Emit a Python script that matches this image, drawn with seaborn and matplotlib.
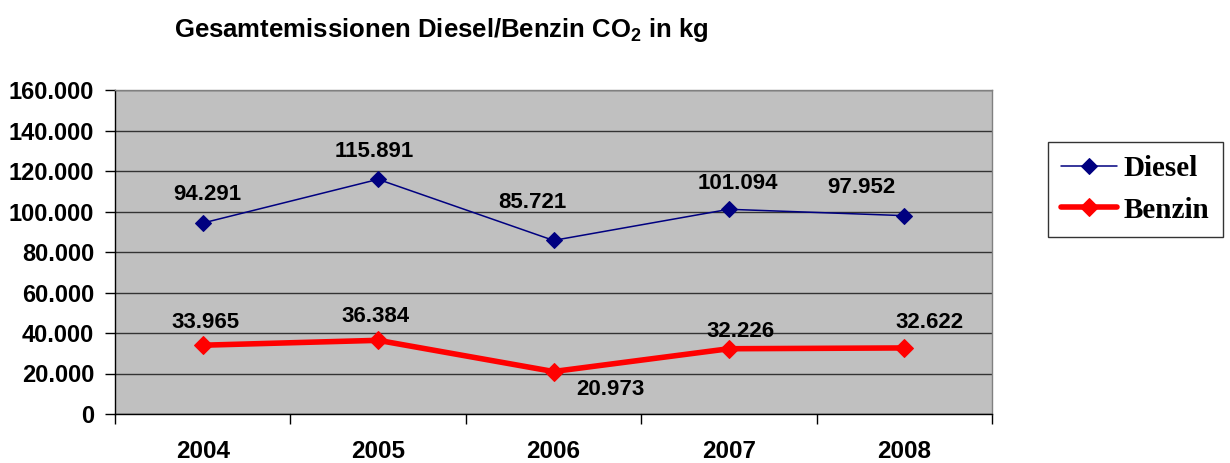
import numpy as np
import pandas as pd
import matplotlib
matplotlib.use("Agg")
import matplotlib.pyplot as plt
from matplotlib.ticker import FuncFormatter, FixedLocator
import seaborn as sns

# Daten aus dem Diagramm
years = ["2004", "2005", "2006", "2007", "2008"]
diesel = [94291, 115891, 85721, 101094, 97952]
benzin = [33965, 36384, 20973, 32226, 32622]

# Versatz der Datenbeschriftungen (Pixel)
diesel_offsets = [(5, 29), (-4, 28), (-21, 38), (9, 26), (-43, 28)]
benzin_offsets = [(3, 23), (-3, 24), (57, -18), (12, 17), (25, 25)]

sns.set_style("white")
plt.rcParams["font.family"] = ["Liberation Sans", "DejaVu Sans"]
plt.rcParams["font.weight"] = "bold"
plt.rcParams["text.color"] = "black"
plt.rcParams["xtick.color"] = "black"
plt.rcParams["ytick.color"] = "black"
plt.rcParams["mathtext.fontset"] = "custom"
plt.rcParams["mathtext.rm"] = "Liberation Sans:bold"
plt.rcParams["mathtext.it"] = "Liberation Sans:bold"
plt.rcParams["mathtext.bf"] = "Liberation Sans:bold"


def de_fmt(v, pos=None):
    return f"{v:,.0f}".replace(",", ".")


fig = plt.figure(figsize=(12.3, 4.63), dpi=100)
ax = fig.add_axes([115 / 1230, 1 - 414 / 463, 877 / 1230, 324 / 463])
ax.set_facecolor("#C0C0C0")

x = np.arange(len(years))
df = pd.DataFrame({"x": x, "Diesel": diesel, "Benzin": benzin})

sns.lineplot(data=df, x="x", y="Diesel", ax=ax, color="#000080", lw=1.1,
             marker="D", markersize=8.5, markeredgecolor="#000080", label="Diesel")
sns.lineplot(data=df, x="x", y="Benzin", ax=ax, color="#FF0000", lw=4,
             marker="D", markersize=9, markeredgecolor="#FF0000", label="Benzin")

for xi, v, off in zip(x, diesel, diesel_offsets):
    ax.annotate(de_fmt(v), (xi, v), xytext=off, textcoords="offset pixels",
                ha="center", va="center", fontsize=16, fontweight="bold", color="black")
for xi, v, off in zip(x, benzin, benzin_offsets):
    ax.annotate(de_fmt(v), (xi, v), xytext=off, textcoords="offset pixels",
                ha="center", va="center", fontsize=16, fontweight="bold", color="black")

ax.set_xlim(-0.5, len(years) - 0.5)
ax.set_ylim(0, 160000)
ax.set_yticks(np.arange(0, 160001, 20000))
ax.yaxis.set_major_formatter(FuncFormatter(de_fmt))
ax.set_xticks(x)
ax.set_xticklabels(years)
ax.xaxis.set_minor_locator(FixedLocator(np.arange(-0.5, len(years), 1.0)))
ax.set_xlabel("")
ax.set_ylabel("")

ax.yaxis.grid(True, color="#333333", lw=1)
ax.set_axisbelow(True)

ax.tick_params(axis="x", which="major", length=0, pad=19, labelsize=17.5)
ax.tick_params(axis="x", which="minor", length=7, width=1, color="black", direction="out")
ax.tick_params(axis="y", length=7, width=1, color="black", pad=8, labelsize=17, direction="out")
ax.tick_params(bottom=True, left=True, which="both")
ax.tick_params(axis="x", which="major", bottom=False)
for lab in ax.get_xticklabels() + ax.get_yticklabels():
    lab.set_fontweight("bold")

ax.spines["left"].set_color("black")
ax.spines["bottom"].set_color("black")
ax.spines["top"].set_color("#808080")
ax.spines["right"].set_color("#808080")
for s in ax.spines.values():
    s.set_linewidth(1)

leg = ax.legend(loc="upper left", bbox_to_anchor=(1048 / 1230, 1 - 142 / 463),
                bbox_transform=fig.transFigure, frameon=True, fancybox=False,
                prop={"family": "Liberation Serif", "size": 21, "weight": "bold"},
                handlelength=1.9, borderpad=0.45, labelspacing=0.5,
                handletextpad=0.25, borderaxespad=0)
leg.get_frame().set_edgecolor("black")
leg.get_frame().set_linewidth(1)
for t in leg.get_texts():
    t.set_color("black")

fig.text(441 / 1230, 1 - 30 / 463, "Gesamtemissionen Diesel/Benzin CO$_2$ in kg",
         ha="center", va="center", fontsize=18.5, fontweight="bold")

fig.savefig("out.png", dpi=100)
